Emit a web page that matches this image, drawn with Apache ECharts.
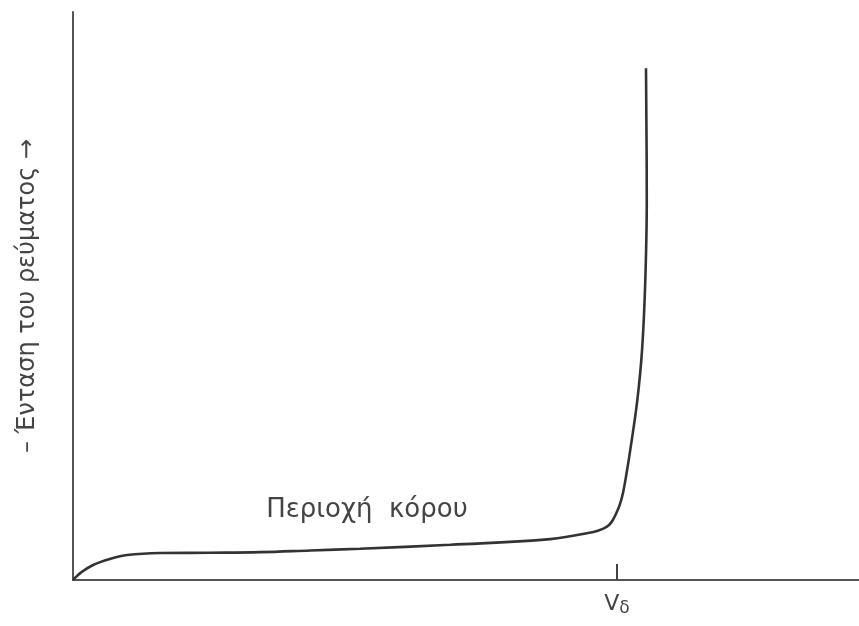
<!DOCTYPE html>
<html>
<head>
<meta charset="utf-8">
<style>html,body{margin:0;padding:0;background:#fff}#c{width:859px;height:626px}</style>
<script src="https://cdn.jsdelivr.net/npm/echarts@6/dist/echarts.min.js"></script>
</head>
<body>
<div id="c"></div>
<script>
// Voltage (arbitrary units) and current (arbitrary units)
const voltage = [0, 0.25, 1.0, 2.5, 4.7, 6.9, 11.1, 17.4, 23.8, 30.2, 36.5, 48.0, 60.7, 66.2, 67.4, 68.2, 68.7, 69.2, 69.6, 70.0, 70.5, 70.9, 71.8, 72.4, 72.8, 73.0, 72.9];
const current = [0, 0.35, 1.3, 2.6, 3.7, 4.4, 4.75, 4.8, 4.9, 5.2, 5.5, 6.2, 7.2, 8.45, 9.0, 9.7, 10.6, 12.0, 13.4, 15.5, 19.4, 22.9, 31.7, 40.5, 52.3, 66.9, 90.1];
const tickValues = [69.2];
const tickLabels = ['V{sub|δ}'];
const regionLabel = 'Περιοχή  κόρου';
const regionAt = [37.4, 12.3];
const yName = '– Ένταση του ρεύματος →';

const chart = echarts.init(document.getElementById('c'));
chart.setOption({
  animation: false,
  grid: {left: 73, right: 0, top: 12, bottom: 46},
  xAxis: {
    type: 'value', min: 0, max: 100,
    axisLine: {show: true, lineStyle: {color: '#555', width: 2}},
    splitLine: {show: false},
    axisTick: {show: true, inside: true, length: 16, customValues: tickValues, lineStyle: {color: '#444', width: 2}},
    axisLabel: {
      show: true, customValues: tickValues, margin: 12,
      formatter: (v) => tickLabels[tickValues.indexOf(v)] || '',
      color: '#444', fontFamily: 'DejaVu Sans', fontSize: 22,
      rich: {sub: {fontSize: 17, fontFamily: 'DejaVu Sans', color: '#444', verticalAlign: 'bottom', padding: [8, 0, 0, 0]}}
    }
  },
  yAxis: {
    type: 'value', min: 0, max: 100,
    axisLine: {show: true, lineStyle: {color: '#555', width: 2}},
    axisTick: {show: false}, axisLabel: {show: false}, splitLine: {show: false},
    name: yName, nameLocation: 'middle', nameRotate: 90, nameGap: 33,
    nameTextStyle: {color: '#444', fontFamily: 'DejaVu Sans', fontSize: 24}
  },
  series: [{
    type: 'line',
    data: voltage.map((v, i) => [v, current[i]]),
    smooth: 0.4,
    symbol: 'none',
    lineStyle: {color: '#333', width: 2.6},
    markPoint: {
      symbol: 'circle', symbolSize: 0,
      data: [{coord: regionAt, value: regionLabel}],
      label: {show: true, position: 'inside', formatter: regionLabel, color: '#444', fontFamily: 'DejaVu Sans', fontSize: 26}
    }
  }]
});
</script>
</body>
</html>
